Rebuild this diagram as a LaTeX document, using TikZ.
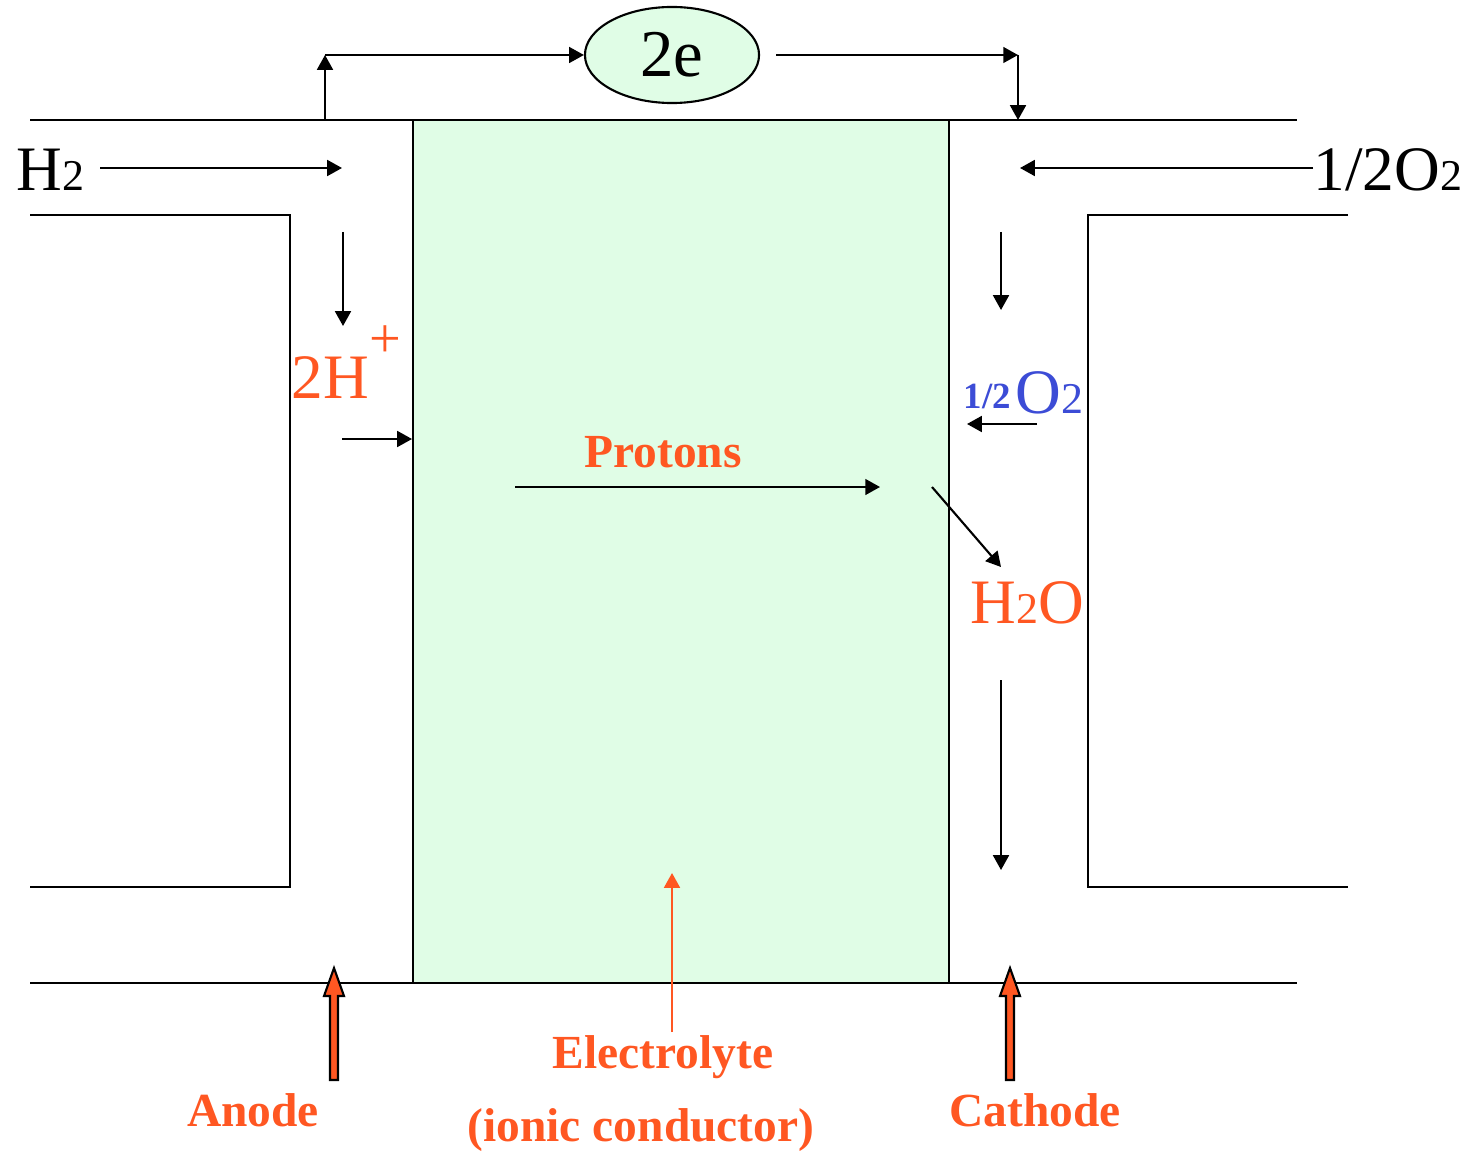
\documentclass[tikz,border=0pt]{standalone}
\usepackage{fontspec}
\setmainfont{Liberation Serif}
\usetikzlibrary{arrows.meta, positioning, shapes.geometric}

\definecolor{elgroen}{RGB}{224,253,230}
\definecolor{oranje}{RGB}{255,87,34}
\definecolor{blauw}{RGB}{60,76,214}

\tikzset{
    lijn/.style={line width=0.6pt},
    pijl/.style={line width=0.6pt, -{Triangle[length=4.2pt,width=4.5pt]}},
    groot/.style={font=\fontsize{18}{21}\selectfont},
    oranjetekst/.style={text=oranje, font=\fontsize{13.5}{16}\selectfont\bfseries},
    dikpijl/.pic={\draw[line width=0.6pt, fill=oranje] (-4,0) -- (-4,-84) -- (-10,-84) -- (0,-112) -- (10,-84) -- (4,-84) -- (4,0) -- cycle;}
}
\newcommand{\klein}[1]{{\fontsize{12.5}{14}\selectfont #1}}

\begin{document}
\begin{tikzpicture}[x=0.01cm, y=-0.01cm]
        \useasboundingbox (0,0) rectangle (1474,1152);

        % Elektrolyt
        \node[draw, lijn, fill=elgroen, inner sep=0pt, minimum width=5.36cm, minimum height=8.63cm] (elektrolyt) at (681,551.5) {};

        % Kanalen
        \draw[lijn] (30,120) -- (1297,120);
        \draw[lijn] (30,983) -- (1297,983);
        \draw[lijn] (30,215) -- (290,215) -- (290,887) -- (30,887);
        \draw[lijn] (1348,215) -- (1088,215) -- (1088,887) -- (1348,887);

        % Stroomkring
        \node[ellipse, draw, lijn, fill=elgroen, inner sep=0pt, minimum width=1.74cm, minimum height=0.96cm, font=\fontsize{19}{22}\selectfont] (elek) at (672,55) {2e};
        \coordinate (anodecontact) at (325,120);
        \coordinate (hoekL) at (325,55);
        \coordinate (elekuit) at (776,55);
        \coordinate (hoekR) at (1018,55);
        \coordinate (kathodecontact) at (1018,120);
        \draw[pijl] (anodecontact) -- (hoekL);
        \draw[pijl] (hoekL) -- (elek.west);
        \draw[pijl] (elekuit) -- (hoekR);
        \draw[pijl] (hoekR) -- (kathodecontact);

        % Waterstof in
        \node[groot, anchor=base west, inner sep=0pt] (h2) at (16,191) {H\klein{2}};
        \coordinate (h2start) at (100,168);
        \coordinate (h2eind) at (342,168);
        \draw[pijl] (h2start) -- (h2eind);

        % Zuurstof in
        \node[groot, anchor=base east, inner sep=0pt] (o2) at (1463,191) {1/2O\klein{2}};
        \coordinate (o2start) at (1313,168);
        \coordinate (o2eind) at (1020,168);
        \draw[pijl] (o2start) -- (o2eind);

        % Anodezijde
        \coordinate (anodeboven) at (343,232);
        \coordinate (anodeonder) at (343,326);
        \draw[pijl] (anodeboven) -- (anodeonder);
        \node[text=oranje, anchor=base west, inner sep=0pt] (proton) at (291,398) {{\fontsize{18}{21}\selectfont 2H}\raisebox{0.4cm}{\fontsize{16}{18}\selectfont +}};
        \coordinate (protonstart) at (342,439);
        \coordinate (protoneind) at (412,439);
        \draw[pijl] (protonstart) -- (protoneind);

        % Protonen door elektrolyt
        \node[oranjetekst] (protonen) at (663,452) {Protons};
        \coordinate (doorstart) at (515,487);
        \coordinate (dooreind) at (880,487);
        \draw[pijl] (doorstart) -- (dooreind);

        % Kathodezijde
        \coordinate (kathodeboven) at (1001,232);
        \coordinate (kathodemidden) at (1001,310);
        \draw[pijl] (kathodeboven) -- (kathodemidden);
        \node[text=blauw, anchor=base west, inner sep=0pt] (halfo2) at (963,413) {\raisebox{0.05cm}{\fontsize{10.5}{12}\selectfont\bfseries 1/2}\hspace{0.05cm}{\fontsize{18}{21}\selectfont O}\klein{2}};
        \coordinate (o2pijlstart) at (1037,424);
        \coordinate (o2pijleind) at (967,424);
        \draw[pijl] (o2pijlstart) -- (o2pijleind);
        \coordinate (waterstart) at (932,487);
        \coordinate (watereind) at (1001,567);
        \draw[pijl] (waterstart) -- (watereind);
        \node[text=oranje, groot, anchor=base west, inner sep=0pt] (h2o) at (970,623) {H\klein{2}O};
        \coordinate (afvoerboven) at (1001,680);
        \coordinate (afvoeronder) at (1001,870);
        \draw[pijl] (afvoerboven) -- (afvoeronder);

        % Labels onderaan
        \node[oranjetekst] (elabel) at (663,1057) {Electrolyte};
        \node[oranjetekst] (ionisch) at (641,1130) {(ionic conductor)};
        \coordinate (elvoet) at (672,1032);
        \coordinate (elpunt) at (672,873);
        \draw[line width=0.6pt, draw=oranje, -{Triangle[length=4.2pt,width=4.5pt]}] (elvoet) -- (elpunt);
        \pic at (334,1080) {dikpijl};
        \node[oranjetekst] (anode) at (253,1110) {Anode};
        \pic at (1010,1080) {dikpijl};
        \node[oranjetekst] (kathode) at (1035,1110) {Cathode};

\end{tikzpicture}
\end{document}
